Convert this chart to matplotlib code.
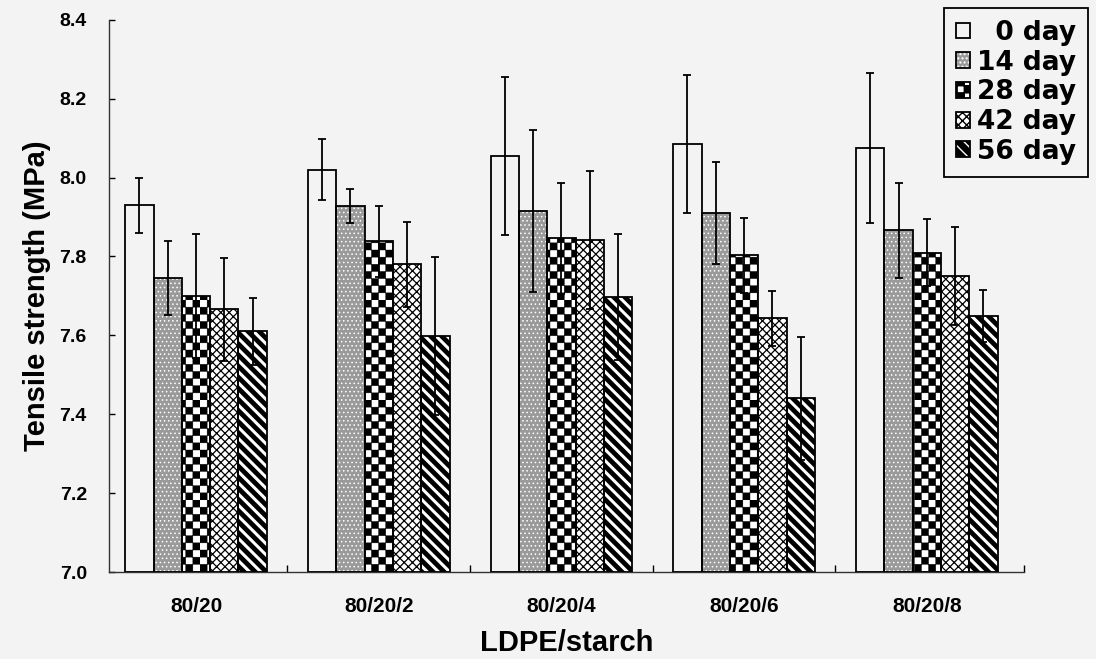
import numpy as np
import matplotlib
matplotlib.use('Agg')
import matplotlib.pyplot as plt
from matplotlib import hatch as mhatch
from matplotlib.path import Path
from matplotlib.patches import Patch
from matplotlib.legend_handler import HandlerTuple

groups = ['80/20', '80/20/2', '80/20/4', '80/20/6', '80/20/8']
days = ['\u20070 day', '14 day', '28 day', '42 day', '56 day']

day0 = [7.93, 8.02, 8.055, 8.085, 8.075]
err0 = [0.07, 0.078, 0.20, 0.175, 0.19]
day14 = [7.745, 7.928, 7.915, 7.91, 7.866]
err14 = [0.093, 0.042, 0.205, 0.13, 0.12]
day28 = [7.70, 7.838, 7.846, 7.803, 7.81]
err28 = [0.158, 0.09, 0.14, 0.095, 0.085]
day42 = [7.666, 7.78, 7.842, 7.643, 7.75]
err42 = [0.131, 0.107, 0.175, 0.07, 0.124]
day56 = [7.61, 7.598, 7.698, 7.44, 7.65]
err56 = [0.085, 0.20, 0.16, 0.155, 0.066]

means = [day0, day14, day28, day42, day56]
errs = [err0, err14, err28, err42, err56]


# checkerboard fill, used in place of the big-circle hatch ('O')
class CheckerHatch(mhatch.HatchPatternBase):
    cells = 14

    def __init__(self, hatch, density):
        self.n = self.cells if 'O' in hatch else 0
        self.num_vertices = 5 * (self.n * self.n // 2)

    def set_vertices_and_codes(self, vertices, codes):
        s = 1.0 / self.n
        sq = np.array([[0, 0], [s, 0], [s, s], [0, s], [0, 0]])
        parts = [sq + [i * s, j * s] for i in range(self.n)
                 for j in range(self.n) if (i + j) % 2 == 0]
        vertices[:] = np.concatenate(parts)
        codes[:] = np.tile([Path.MOVETO, Path.LINETO, Path.LINETO,
                            Path.LINETO, Path.CLOSEPOLY], len(parts))


mhatch._hatch_types = [CheckerHatch if t is mhatch.LargeCircles else t
                       for t in mhatch._hatch_types]

bg = '#f3f3f3'
# face, hatch colour, hatch, hatch line width
styles = [
    (bg, 'black', None, 1.0),
    ('#9a9a9a', 'white', '....', 0.6),
    ('white', 'black', 'O', 0.3),
    ('white', 'black', 'xxxx', 0.9),
    ('black', 'white', '\\\\\\', 2.2),
]

plt.rcParams['font.family'] = ['Liberation Sans', 'DejaVu Sans']
plt.rcParams['font.weight'] = 'bold'

fig = plt.figure(figsize=(10.96, 6.59), dpi=100, facecolor=bg)
ax = fig.add_axes([0.0995, 0.132, 0.8345, 0.838])
ax.set_facecolor(bg)

x = np.arange(len(groups))
w = 0.155
handles = []
for k in range(5):
    face, hcol, hatch, hlw = styles[k]
    pos = x + (k - 2) * w
    with plt.rc_context({'hatch.linewidth': hlw}):
        ax.bar(pos, np.array(means[k]) - 7.0, w, bottom=7.0, color=face,
               edgecolor=hcol, linewidth=0, hatch=hatch, zorder=2)
        fill = Patch(facecolor=face, edgecolor=hcol, linewidth=0, hatch=hatch)
    ax.bar(pos, np.array(means[k]) - 7.0, w, bottom=7.0, fill=False,
           edgecolor='black', linewidth=1.3, zorder=3)
    ax.errorbar(pos, means[k], yerr=errs[k], fmt='none', ecolor='black',
                elinewidth=1.3, capsize=3, capthick=1.3, zorder=4)
    handles.append((fill, Patch(fill=False, edgecolor='black', linewidth=1.3)))

ax.set_ylim(7.0, 8.4)
ax.set_xlim(-0.476, 4.53)
ax.set_yticks(np.arange(7.0, 8.41, 0.2))
ax.set_yticklabels(['%.1f' % v for v in np.arange(7.0, 8.41, 0.2)])
ax.tick_params(axis='y', direction='in', length=4, width=1, pad=16,
               labelsize=14)
ax.set_xticks(x)
ax.set_xticklabels(groups)
ax.tick_params(axis='x', length=0, pad=18, labelsize=15)
ax.set_xticks([0.5, 1.5, 2.5, 3.5, 4.53], minor=True)
ax.tick_params(axis='x', which='minor', direction='in', length=5, width=1)

for side in ['top', 'right']:
    ax.spines[side].set_visible(False)
for side in ['left', 'bottom']:
    ax.spines[side].set_linewidth(1.0)
    ax.spines[side].set_color('#333333')

ax.set_xlabel('LDPE/starch', fontsize=21, fontweight='bold', labelpad=9)
ax.set_ylabel('Tensile strength (MPa)', fontsize=21, fontweight='bold',
              labelpad=6)

leg = fig.legend(handles, days, loc='upper right',
                 bbox_to_anchor=(1088 / 1096, 1 - 8 / 659),
                 handler_map={tuple: HandlerTuple(ndivide=1)},
                 prop={'family': 'DejaVu Sans', 'weight': 'bold', 'size': 19},
                 handlelength=0.55, handleheight=0.55, handletextpad=0.25,
                 labelspacing=0.14, borderpad=0.45, borderaxespad=0,
                 fancybox=False, framealpha=1, edgecolor='black',
                 facecolor=bg)
leg.get_frame().set_linewidth(1.3)

fig.savefig('out.png', dpi=100, facecolor=bg)
